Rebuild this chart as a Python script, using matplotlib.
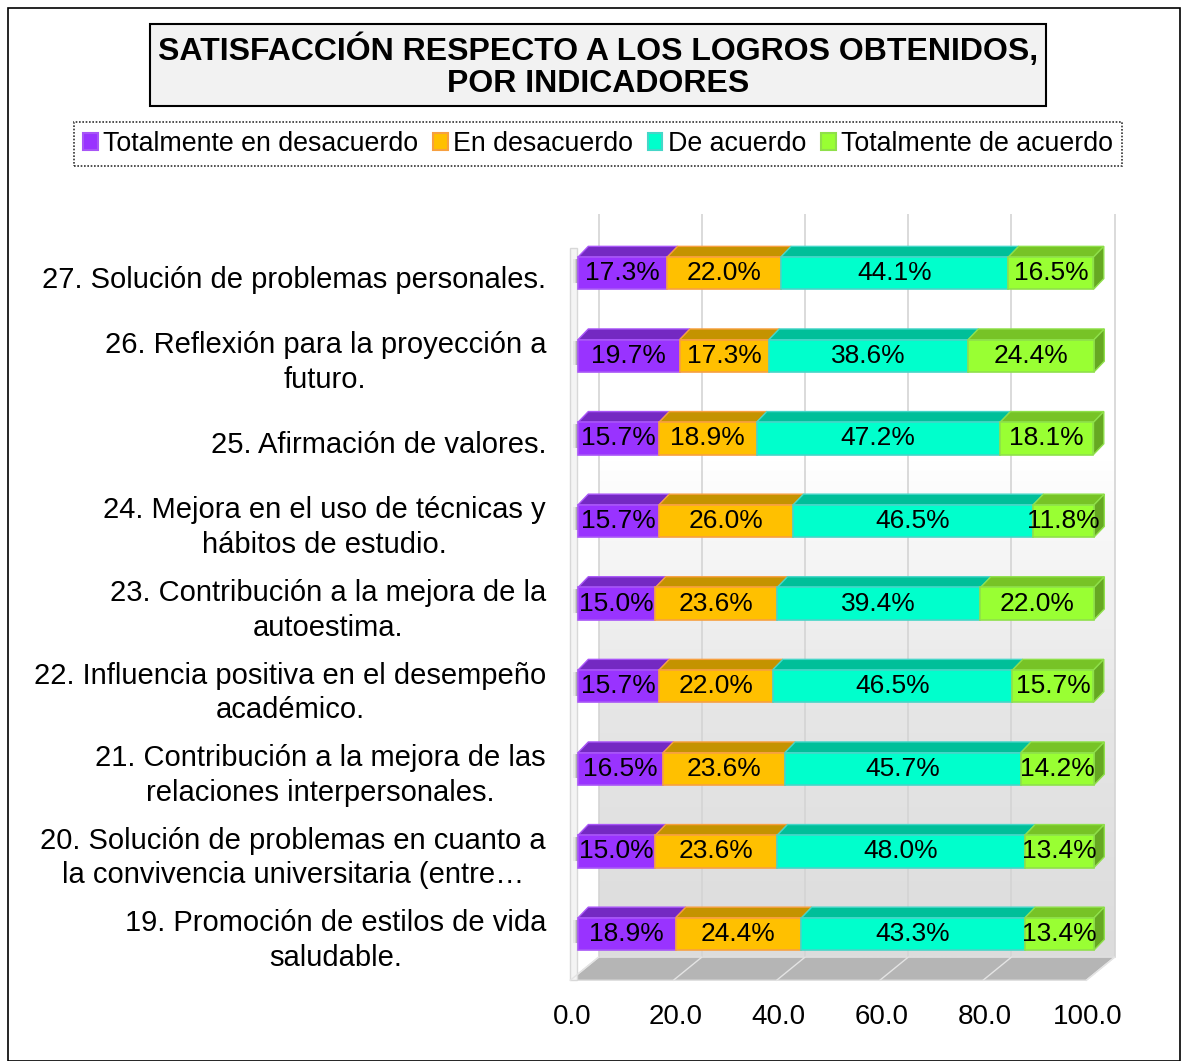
import numpy as np
import matplotlib
matplotlib.use("Agg")
import matplotlib.pyplot as plt
from matplotlib.patches import Polygon, Rectangle, Patch
from matplotlib.colors import LinearSegmentedColormap
from matplotlib.transforms import ScaledTranslation

plt.rcParams['font.family'] = ['Liberation Sans', 'DejaVu Sans']

# ---------------- data (bottom -> top) ----------------
categories = [
    "19. Promoción de estilos de vida\nsaludable.",
    "20. Solución de problemas en cuanto a\nla convivencia universitaria (entre…",
    "21. Contribución a la mejora de las\nrelaciones interpersonales.",
    "22. Influencia positiva en el desempeño\nacadémico.",
    "23. Contribución a la mejora de la\nautoestima.",
    "24. Mejora en el uso de técnicas y\nhábitos de estudio.",
    "25. Afirmación de valores.",
    "26. Reflexión para la proyección a\nfuturo.",
    "27. Solución de problemas personales.",
]
series_names = ["Totalmente en desacuerdo", "En desacuerdo", "De acuerdo",
                "Totalmente de acuerdo"]
tot_desacuerdo = [18.9, 15.0, 16.5, 15.7, 15.0, 15.7, 15.7, 19.7, 17.3]
en_desacuerdo = [24.4, 23.6, 23.6, 22.0, 23.6, 26.0, 18.9, 17.3, 22.0]
de_acuerdo = [43.3, 48.0, 45.7, 46.5, 39.4, 46.5, 47.2, 38.6, 44.1]
tot_acuerdo = [13.4, 13.4, 14.2, 15.7, 22.0, 11.8, 18.1, 24.4, 16.5]
xticks = [0, 20, 40, 60, 80, 100]

front_cols = ["#9933ff", "#ffc000", "#00ffcc", "#99ff33"]
top_cols = ["#7429c2", "#c49300", "#00bf99", "#77c326"]
edge_cols = ["#a855f7", "#f7a040", "#45d6c8", "#8fe04a"]
side_col = "#66a822"

W, H = 1187, 1061
fig = plt.figure(figsize=(W / 100, H / 100), dpi=100)

# outer border
fig.patches.append(Rectangle((8 / W, 0), (1180 - 8) / W, (H - 8) / H,
                             transform=fig.transFigure, fill=False,
                             edgecolor="black", lw=1.2))
# title box
fig.patches.append(Rectangle((150 / W, 1 - 106 / H), (1046 - 150) / W, 82 / H,
                             transform=fig.transFigure, facecolor="#f2f2f2",
                             edgecolor="black", lw=1.5))
fig.text(598 / W, 1 - 66 / H,
         "SATISFACCIÓN RESPECTO A LOS LOGROS OBTENIDOS,\nPOR INDICADORES",
         ha="center", va="center", fontsize=23, fontweight="bold",
         linespacing=1.1)

# axes: x 0->578px, 100->1094px ; y rows spaced 82.6px, row0 center at 934px
px_per_x = 5.16
px_per_y = 82.6
xl0, xl1 = -2.5, 105.5
yl0, yl1 = -0.6, 8.72
left_px = 578 + xl0 * px_per_x
right_px = 578 + xl1 * px_per_x
top_px = 934 - yl1 * px_per_y
bot_px = 934 - yl0 * px_per_y
ax = fig.add_axes([left_px / W, 1 - bot_px / H, (right_px - left_px) / W,
                   (bot_px - top_px) / H])
ax.set_xlim(xl0, xl1)
ax.set_ylim(yl0, yl1)
for s in ax.spines.values():
    s.set_visible(False)

# walls / floor
wdx, fy_front, fy_back = 4.0, -0.56, -0.28
fdx = -1.5
grad = np.linspace(0, 1, 256).reshape(-1, 1)
cmap = LinearSegmentedColormap.from_list("wall", ["#dcdcdc", "#e6e6e6", "#ffffff", "#ffffff"])
ax.imshow(grad, extent=[wdx, 100 + wdx, fy_back, yl1], origin="lower",
          cmap=cmap, aspect="auto", zorder=0)
ax.add_patch(Polygon([(fdx, fy_front), (100 + fdx, fy_front),
                      (100 + wdx, fy_back), (wdx, fy_back)],
                     closed=True, facecolor="#b5b5b5", edgecolor="#e0e0e0",
                     lw=1, zorder=1))
# thin left wall
ax.add_patch(Rectangle((fdx, fy_front), 1.3, 8.3 - fy_front,
                       facecolor="#f4f4f4", edgecolor="#d8d8d8", lw=1, zorder=1))
for t in xticks:
    ax.plot([t + wdx, t + wdx], [fy_back, yl1], color="#d4d4d4", lw=1.2, zorder=1)
    ax.plot([t + fdx, t + wdx], [fy_front, fy_back], color="#e4e4e4", lw=1, zorder=2)

# bars
data = [tot_desacuerdo, en_desacuerdo, de_acuerdo, tot_acuerdo]
bh = 0.39
ddx, ddy = 2.0, 0.13
ypos = np.arange(len(categories))
# soft shadow at the left end of each bar
for i in ypos:
    for j, a in enumerate([0.06, 0.10, 0.16]):
        ax.add_patch(Rectangle((-0.9 + 0.3 * j, i - bh / 2 + 0.08), 0.9 - 0.3 * j,
                               bh - 0.1, facecolor="#222222", alpha=a,
                               lw=0, zorder=2))
lefts = np.zeros(len(categories))
for k, vals in enumerate(data):
    vals = np.array(vals)
    ax.barh(ypos, vals, left=lefts, height=bh, color=front_cols[k],
            edgecolor=edge_cols[k], lw=1.2, zorder=4)
    for i in range(len(categories)):
        x0, x1 = lefts[i], lefts[i] + vals[i]
        yt = ypos[i] + bh / 2
        ax.add_patch(Polygon([(x0, yt), (x1, yt), (x1 + ddx, yt + ddy),
                              (x0 + ddx, yt + ddy)], closed=True,
                             facecolor=top_cols[k], edgecolor=edge_cols[k],
                             lw=1, zorder=3))
        if k == len(data) - 1:
            yb = ypos[i] - bh / 2
            ax.add_patch(Polygon([(x1, yb), (x1 + ddx, yb + ddy),
                                  (x1 + ddx, yt + ddy), (x1, yt)], closed=True,
                                 facecolor=side_col, edgecolor=edge_cols[k],
                                 lw=1, zorder=3))
        ax.text((x0 + x1) / 2, ypos[i], f"{vals[i]:.1f}%", ha="center",
                va="center", fontsize=19, zorder=6)
    lefts = lefts + vals

# category labels
for i, lab in enumerate(categories):
    ax.text(-6.2, ypos[i] - 0.08, lab, ha="right", va="center",
            multialignment="center", fontsize=21, linespacing=1.3,
            clip_on=False)

ax.set_yticks([])
ax.set_xticks(xticks)
ax.set_xticklabels([f"{t:.1f}" for t in xticks], fontsize=20)
ax.tick_params(axis="x", length=0, pad=15)
for lab in ax.get_xticklabels():
    lab.set_transform(lab.get_transform() + ScaledTranslation(-0.06, 0, fig.dpi_scale_trans))

# legend
handles = [Patch(facecolor=front_cols[k], edgecolor=edge_cols[k], lw=1.5)
           for k in range(4)]
leg = fig.legend(handles, series_names, loc="center", ncol=4,
                 bbox_to_anchor=(598 / W, 1 - 144 / H), fontsize=19.3,
                 handlelength=0.55, handleheight=0.55, handletextpad=0.2,
                 columnspacing=0.55, borderpad=0.35, fancybox=False,
                 frameon=True, edgecolor="black")
leg.get_frame().set_linestyle((0, (1, 1)))
leg.get_frame().set_linewidth(1.2)

fig.savefig("out.png", dpi=100)
